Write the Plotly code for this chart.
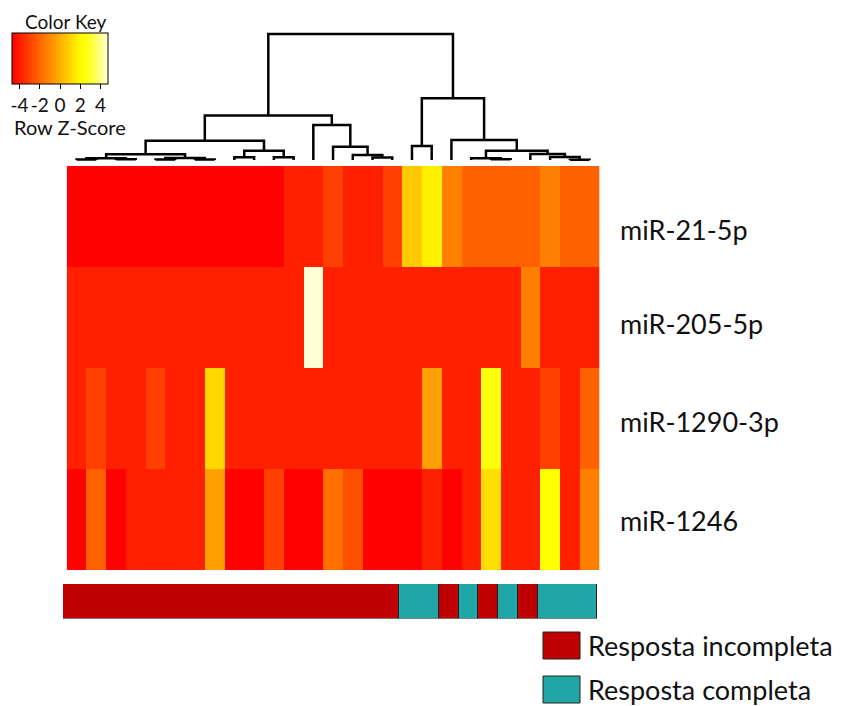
import plotly.graph_objects as go

# ---- data -------------------------------------------------------------
mirnas = ["miR-21-5p", "miR-205-5p", "miR-1290-3p", "miR-1246"]
n_samples = 27

# row z-scores, samples in dendrogram order
z_mir21 = [-4.75] * 11 + [-3.94, -3.94, -3.07, -3.94, -3.94, -3.07, 0.64, 1.68,
                          -1.35, -2.21, -2.21, -2.21, -2.21, -1.35, -2.21, -2.21]
z_mir205 = [-3.94] * 12 + [4.70] + [-3.94] * 10 + [-1.35] + [-3.94] * 3
z_mir1290 = [-3.94, -3.07, -3.94, -3.94, -3.07, -3.94, -3.94, 1.07] + [-3.94] * 10 + \
            [-0.48, -3.94, -3.94, 2.37, -3.94, -3.94, -3.07, -3.94, -2.21]
z_mir1246 = [-4.75, -2.21, -4.75, -3.94, -3.94, -3.94, -3.94, -0.48, -4.75, -4.75,
             -3.07, -4.75, -4.75, -1.78, -2.64, -4.75, -4.75, -4.75, -3.94, -4.75,
             -3.94, 1.25, -3.94, -3.94, 2.11, -3.94, -1.35]
z_rows = [z_mir21, z_mir205, z_mir1290, z_mir1246]

# colour key ticks
key_ticks = [-4, -2, 0, 2, 4]
key_tick_text = ["-4", "-2", "0", "2", "4"]

# response group for each sample (same order)
response = (["Resposta incompleta"] * 17 + ["Resposta completa"] * 2 +
            ["Resposta incompleta", "Resposta completa", "Resposta incompleta",
             "Resposta completa", "Resposta incompleta"] + ["Resposta completa"] * 3)
groups = ["Resposta incompleta", "Resposta completa"]

# column clustering: (left id, right id, height); leaves are 0..26, merges 27..
linkage = [
    (0, 1, 0.5), (2, 3, 0.8), (27, 28, 1.7),
    (4, 5, 0.5), (6, 7, 0.6), (30, 31, 2.0),
    (29, 32, 5.7),
    (8, 9, 2.7), (10, 11, 2.7), (34, 35, 9.3),
    (33, 36, 19.3),
    (15, 16, 2.5), (14, 38, 5.0), (13, 39, 13.3), (12, 40, 35.0),
    (37, 41, 44.5),
    (17, 18, 14.0),
    (21, 22, 0.8), (20, 44, 1.7),
    (25, 26, 0.3), (24, 46, 3.0), (23, 47, 6.0),
    (45, 48, 9.3), (19, 49, 20.0),
    (43, 50, 61.7),
    (42, 51, 126.0),
]

# ---- styles -------------------------------------------------------------
W, H = 847, 706
FONT = "Lato"
heat_colors = ["#FF0000", "#FF2000", "#FF4000", "#FF6000", "#FF8000", "#FF9F00",
               "#FFBF00", "#FFDF00", "#FFFF00", "#FFFF2A", "#FFFF80", "#FFFFD5"]
colorscale = [[i / (len(heat_colors) - 1), c] for i, c in enumerate(heat_colors)]
group_colors = {"Resposta incompleta": "#C00000", "Resposta completa": "#21A6A8"}
ZMIN, ZMAX = -4.8, 4.7


def px_x(x):
    return x / W


def px_y(y):
    return 1 - y / H


fig = go.Figure()

# ---- heatmap ------------------------------------------------------------
fig.add_trace(go.Heatmap(
    z=z_rows, x=list(range(n_samples)), y=list(range(len(mirnas))),
    colorscale=colorscale, zmin=ZMIN, zmax=ZMAX,
    xaxis="x", yaxis="y",
    hoverinfo="skip",
    colorbar=dict(
        orientation="h", xanchor="left", yanchor="top",
        x=px_x(11.5), y=px_y(33),
        lenmode="pixels", len=96, thickness=51,
        xpad=0, ypad=0,
        outlinewidth=1, outlinecolor="black",
        tickvals=key_ticks, ticktext=key_tick_text, tickangle=0,
        ticks="outside", ticklen=5, tickcolor="black", tickwidth=1,
        tickfont=dict(family=FONT, size=19, color="#111"),
    ),
))

# ---- column dendrogram --------------------------------------------------
node_x = {i: float(i) for i in range(n_samples)}
node_h = {i: 0.0 for i in range(n_samples)}
dx, dy = [], []
for k, (a, b, h) in enumerate(linkage):
    nid = n_samples + k
    node_x[nid] = (node_x[a] + node_x[b]) / 2
    node_h[nid] = h
    dx += [node_x[a], node_x[a], node_x[b], node_x[b], None]
    dy += [node_h[a], h, h, node_h[b], None]
fig.add_trace(go.Scatter(
    x=dx, y=dy, mode="lines", xaxis="x3", yaxis="y3",
    line=dict(color="black", width=2.5), hoverinfo="skip", showlegend=False,
))

# ---- response annotation bar (one block per run of equal group) ---------
run_x, run_w, run_c = [], [], []
start = 0
for i in range(1, n_samples + 1):
    if i == n_samples or response[i] != response[start]:
        run_x.append((start + i - 1) / 2)
        run_w.append(i - start)
        run_c.append(group_colors[response[start]])
        start = i
fig.add_trace(go.Bar(
    x=run_x, y=[1] * len(run_x), width=run_w, base=0,
    marker=dict(color=run_c, line=dict(color="#222", width=1)),
    xaxis="x2", yaxis="y2", hoverinfo="skip", showlegend=False,
))

# ---- axes ---------------------------------------------------------------
hidden = dict(visible=False, showgrid=False, zeroline=False, fixedrange=True)
fig.update_layout(
    width=W, height=H,
    margin=dict(l=0, r=0, t=0, b=0),
    paper_bgcolor="white", plot_bgcolor="white",
    showlegend=False,
    bargap=0,
    xaxis=dict(hidden, domain=[px_x(66.7), px_x(599.4)], range=[-0.5, n_samples - 0.5]),
    yaxis=dict(hidden, domain=[px_y(570), px_y(166)], range=[len(mirnas) - 0.5, -0.5]),
    xaxis2=dict(hidden, domain=[px_x(63), px_x(597)], range=[-0.5, n_samples - 0.5],
                anchor="y2"),
    yaxis2=dict(hidden, domain=[px_y(618.5), px_y(584)], range=[0, 1], anchor="x2"),
    xaxis3=dict(hidden, domain=[px_x(66.7), px_x(599.4)], range=[-0.5, n_samples - 0.5],
                anchor="y3"),
    yaxis3=dict(hidden, domain=[px_y(166), px_y(28)], range=[-6, 132], anchor="x3"),
)

# ---- text: row labels, colour key captions, group legend ----------------
label_y_px = [230, 323, 421, 520]
annotations = []
for name, ypx in zip(mirnas, label_y_px):
    annotations.append(dict(
        text=name, x=px_x(618), y=px_y(ypx), xref="paper", yref="paper",
        xanchor="left", yanchor="middle", showarrow=False,
        font=dict(family=FONT, size=27, color="#111"),
    ))
annotations.append(dict(
    text="Color Key", x=px_x(66), y=px_y(21), xref="paper", yref="paper",
    xanchor="center", yanchor="middle", showarrow=False,
    font=dict(family=FONT, size=19, color="#111"),
))
annotations.append(dict(
    text="Row Z-Score", x=px_x(70), y=px_y(127), xref="paper", yref="paper",
    xanchor="center", yanchor="middle", showarrow=False,
    font=dict(family=FONT, size=20, color="#111"),
))

shapes = []
legend_y_px = [646, 690]
for g, ypx in zip(groups, legend_y_px):
    shapes.append(dict(
        type="rect", xref="paper", yref="paper",
        x0=px_x(543), x1=px_x(580), y0=px_y(ypx + 13), y1=px_y(ypx - 14),
        fillcolor=group_colors[g], line=dict(color="#222", width=1),
    ))
    annotations.append(dict(
        text=g, x=px_x(586), y=px_y(ypx - 1), xref="paper", yref="paper",
        xanchor="left", yanchor="middle", showarrow=False,
        font=dict(family=FONT, size=27, color="#111"),
    ))

fig.update_layout(annotations=annotations, shapes=shapes)

fig.write_html("out.html")
